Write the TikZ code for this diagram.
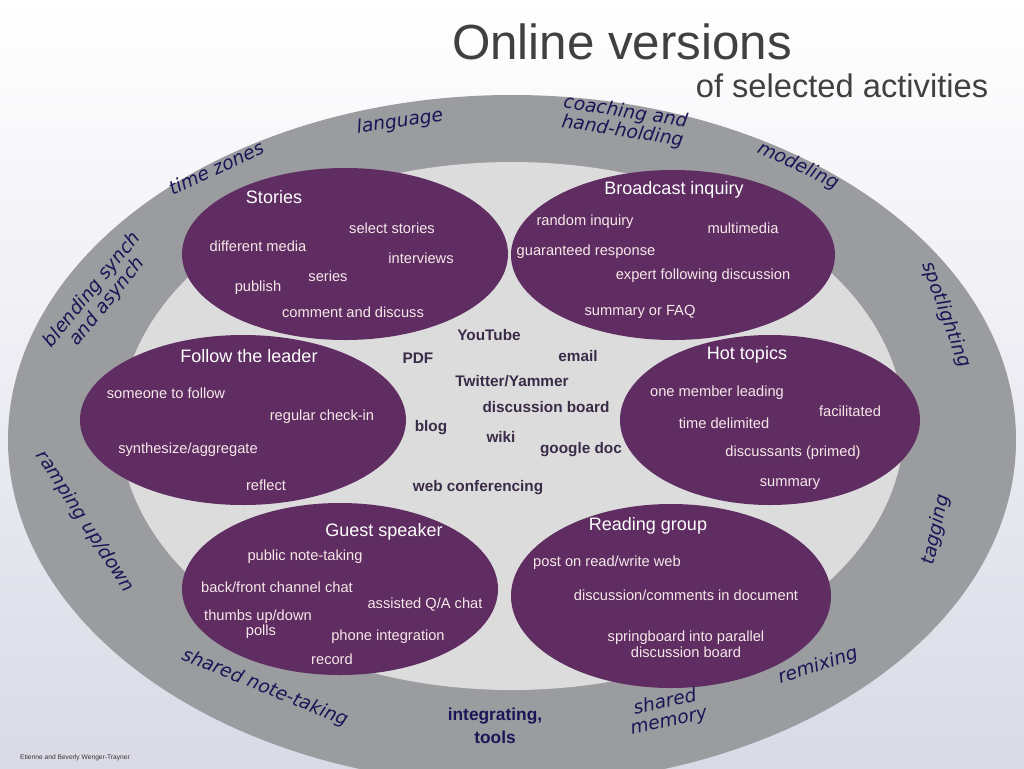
\documentclass[tikz,border=0pt]{standalone}
\usepackage{fontspec}
\setmainfont{Liberation Sans}
\newfontfamily\ringfont{DejaVu Sans}
\begin{document}
\begin{tikzpicture}[x=0.75pt,y=-0.75pt,
  w/.style={text=pinkw,font=\fontsize{11}{12}\selectfont,inner sep=1pt},
  hd/.style={text=white,font=\fontsize{13.5}{15}\selectfont,inner sep=1pt},
  dk/.style={text=navyd,font=\bfseries\fontsize{11.5}{13}\selectfont,inner sep=1pt,align=center},
  rg/.style={text=navy,font=\ringfont\itshape\fontsize{14}{14.5}\selectfont,inner sep=0pt,align=center},
  pe/.style={fill=purp,draw=none}]
\definecolor{ring}{HTML}{9A9C9F}
\definecolor{inner}{HTML}{DCDCDC}
\definecolor{purp}{HTML}{5F2D62}
\definecolor{pinkw}{HTML}{F6E8E8}
\definecolor{navy}{HTML}{1C1457}
\definecolor{navyd}{HTML}{3A2C48}
\useasboundingbox (0,0) rectangle (1024,768);
\shade[top color=white,bottom color=black!10!white!95!blue] (0,0) rectangle (1024,768);
\begin{scope}
\clip (0,0) rectangle (1024,768);
\fill[ring] (512,440) ellipse [x radius=504, y radius=345];
\fill[inner] (512,426) ellipse [x radius=392, y radius=264];
\end{scope}
% purple ellipses
\path[pe] (345,254) ellipse [x radius=163, y radius=86];
\path[pe] (673,255) ellipse [x radius=162, y radius=85];
\path[pe] (243,420) ellipse [x radius=163, y radius=85];
\path[pe] (770,420) ellipse [x radius=150, y radius=85];
\path[pe] (340,589) ellipse [x radius=158, y radius=86];
\path[pe] (671,596) ellipse [x radius=160, y radius=92];
% titles
\node[text=black!75,font=\fontsize{37}{40}\selectfont] (t1) at (622,42) {Online versions};
\node[text=black!75,font=\fontsize{24.5}{26}\selectfont] (t2) at (842,86) {of selected activities};
% Stories
\node[hd] (s0) at (274,197) {Stories};
\node[hd] (s1) at (674,190) {Broadcast inquiry};
\node[w] (s2) at (392,228) {select stories};
\node[w] (s3) at (585,222) {random inquiry};
\node[w] (s4) at (743,228) {multimedia};
\node[w] (s5) at (258,246) {different media};
\node[w] (s6) at (421,258) {interviews};
\node[w] (s7) at (586,252) {guaranteed response};
\node[w] (s8) at (328,276) {series};
\node[w] (s9) at (258,288) {publish};
\node[w] (s10) at (703,276) {expert following discussion};
\node[w] (s11) at (353,312) {comment and discuss};
\node[w] (s12) at (640,312) {summary or FAQ};
% Follow
\node[hd] (f0) at (249,356) {Follow the leader};
\node[w] (f1) at (166,393) {someone to follow};
\node[w] (f2) at (322,417) {regular check-in};
\node[w] (f3) at (188,450) {synthesize/aggregate};
\node[w] (f4) at (266,485) {reflect};
% center
\node[dk] (c1) at (489,335) {YouTube};
\node[dk] (c2) at (418,358) {PDF};
\node[dk] (c3) at (578,356) {email};
\node[dk] (c4) at (512,381) {Twitter/Yammer};
\node[dk] (c5) at (546,407) {discussion board};
\node[dk] (c6) at (431,428) {blog};
\node[dk] (c7) at (501,437) {wiki};
\node[dk] (c8) at (581,450) {google doc};
\node[dk] (c9) at (478,488) {web conferencing};
\node[text=navy,font=\bfseries\fontsize{13}{17}\selectfont,align=center] (c10) at (495,726) {integrating,\\tools};
% Hot topics
\node[hd] (h0) at (747,355) {Hot topics};
\node[w] (h1) at (717,393) {one member leading};
\node[w] (h2) at (850,411) {facilitated};
\node[w] (h3) at (724,423) {time delimited};
\node[w] (h4) at (793,453) {discussants (primed)};
\node[w] (h5) at (790,484) {summary};
% Guest
\node[hd] (g0) at (384,532) {Guest speaker};
\node[w] (g1) at (305,557) {public note-taking};
\node[w] (g2) at (277,587) {back/front channel chat};
\node[w] (g3) at (425,605) {assisted Q/A chat};
\node[w] (g4) at (258,617) {thumbs up/down};
\node[w] (g5) at (261,632) {polls};
\node[w] (g6) at (388,637) {phone integration};
\node[w] (g7) at (332,659) {record};
% Reading
\node[hd] (r0) at (648,526) {Reading group};
\node[w] (r1) at (607,563) {post on read/write web};
\node[w] (r2) at (686,595) {discussion/comments in document};
\node[w,align=center] (r3) at (686,644) {springboard into parallel\\discussion board};
% ring labels
\node[rg,rotate=25] (q1) at (216,168) {time zones};
\node[rg,rotate=8] (q2) at (400,122) {language};
\node[rg,rotate=-9] (q3) at (624,122) {coaching and\\hand-holding};
\node[rg,rotate=-25] (q4) at (798,166) {modeling};
\node[rg,rotate=-70] (q5) at (946,315) {spotlighting};
\node[rg,rotate=78] (q6) at (936,530) {tagging};
\node[rg,rotate=18] (q7) at (818,666) {remixing};
\node[rg,rotate=12] (q8) at (667,712) {shared\\memory};
\node[rg,rotate=-22] (q9) at (265,688) {shared note-taking};
\node[rg,rotate=-57] (q10) at (85,522) {ramping up/down};
\node[rg,rotate=51] (q11) at (100,296) {blending synch\\and asynch};
\node[text=black!80,font=\fontsize{5}{6}\selectfont] (cr) at (75,758) {Etienne and Beverly Wenger-Trayner};
\end{tikzpicture}
\end{document}
